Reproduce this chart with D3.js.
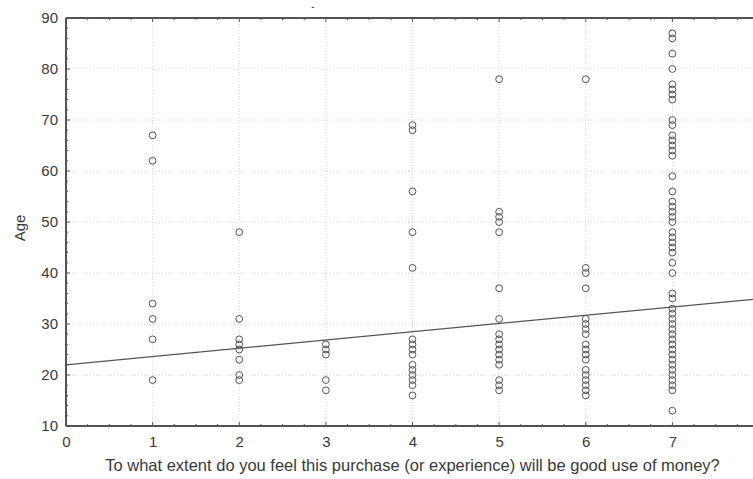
<!DOCTYPE html>
<html>
<head>
<meta charset="utf-8">
<script src="https://cdn.jsdelivr.net/npm/d3@7"></script>
<style>
  body { margin: 0; background: #fff; }
  svg { display: block; font-family: "Liberation Sans", Arial, sans-serif; }
</style>
</head>
<body>
<svg id="chart"></svg>
<script>
// Ages, one list per answer on the 1-7 scale
const ageAt1 = [67, 62, 34, 31, 27, 19];
const ageAt2 = [48, 31, 27, 26, 25, 23, 20, 19];
const ageAt3 = [26, 25, 24, 19, 17];
const ageAt4 = [69, 68, 56, 48, 41, 27, 26, 25, 24, 22, 21, 20, 19, 18, 16];
const ageAt5 = [78, 52, 51, 50, 48, 37, 31, 28, 27, 26, 25, 24, 23, 22, 19, 18, 17];
const ageAt6 = [78, 41, 40, 37, 31, 30, 29, 28, 26, 25, 24, 23, 21, 20, 19, 18, 17, 16];
const ageAt7 = [87, 86, 83, 80, 77, 76, 75, 74, 70, 69, 67, 66, 65, 64, 63, 59, 56,
  54, 53, 52, 51, 50, 48, 47, 46, 45, 44, 42, 40, 36, 35,
  33, 32, 31, 30, 29, 28, 27, 26, 25, 24, 23, 22, 21, 20, 19, 18, 17, 13];

const columns = [ageAt1, ageAt2, ageAt3, ageAt4, ageAt5, ageAt6, ageAt7];

// Linear fit shown on the chart
const fitIntercept = 22.0;
const fitSlope = 1.62;

const xTicks = [0, 1, 2, 3, 4, 5, 6, 7];
const yTicks = [10, 20, 30, 40, 50, 60, 70, 80, 90];
const xLabel = "To what extent do you feel this purchase (or experience) will be good use of money?";
const yLabel = "Age";

const width = 753;
const height = 479;
const margin = { top: 18, left: 66 };
const innerW = 693;
const innerH = 408;

const points = [];
columns.forEach((ages, i) => ages.forEach((a) => points.push({ x: i + 1, y: a })));

const svg = d3.select("#chart").attr("width", width).attr("height", height);

const x = d3.scaleLinear().domain([0, 8]).range([0, innerW]);
const y = d3.scaleLinear().domain([10, 90]).range([innerH, 0]);

const g = svg.append("g").attr("transform", `translate(${margin.left},${margin.top})`);

// dotted grid
g.append("g")
  .selectAll("line")
  .data(xTicks.slice(1))
  .join("line")
  .attr("x1", (d) => x(d)).attr("x2", (d) => x(d))
  .attr("y1", 0).attr("y2", innerH)
  .attr("stroke", "#d4d4d4")
  .attr("stroke-dasharray", "1,2");

g.append("g")
  .selectAll("line")
  .data(yTicks.slice(1, -1))
  .join("line")
  .attr("x1", 0).attr("x2", innerW)
  .attr("y1", (d) => y(d)).attr("y2", (d) => y(d))
  .attr("stroke", "#d4d4d4")
  .attr("stroke-dasharray", "1,2");

const axisColor = "#555";
const textColor = "#3a3a3a";

// minor ticks (inward) on all visible sides
const xMinor = d3.range(0, 8.01, 0.25);
const yMinor = d3.range(10, 90.01, 2);

const minor = g.append("g").attr("stroke", axisColor).attr("stroke-width", 1);
xMinor.forEach((d) => {
  const len = Number.isInteger(d) ? 4 : 2;
  minor.append("line").attr("x1", x(d)).attr("x2", x(d)).attr("y1", innerH).attr("y2", innerH - len);
  minor.append("line").attr("x1", x(d)).attr("x2", x(d)).attr("y1", 0).attr("y2", len);
});
yMinor.forEach((d) => {
  const len = d % 10 === 0 ? 4 : 2;
  minor.append("line").attr("x1", 0).attr("x2", len).attr("y1", y(d)).attr("y2", y(d));
});

// axes with labels
const xAxis = g.append("g")
  .attr("transform", `translate(0,${innerH})`)
  .call(d3.axisBottom(x).tickValues(xTicks).tickSize(0).tickPadding(10));
const yAxis = g.append("g")
  .call(d3.axisLeft(y).tickValues(yTicks).tickSize(0).tickPadding(8));

[xAxis, yAxis].forEach((ax) => {
  ax.select(".domain").remove();
  ax.selectAll("text")
    .attr("font-size", 15)
    .attr("font-family", "Liberation Sans, Arial, sans-serif")
    .attr("fill", textColor);
});

// frame
g.append("line").attr("x1", 0).attr("x2", innerW).attr("y1", innerH).attr("y2", innerH)
  .attr("stroke", axisColor).attr("stroke-width", 2);
g.append("line").attr("x1", 0).attr("x2", innerW).attr("y1", 0).attr("y2", 0)
  .attr("stroke", axisColor).attr("stroke-width", 2);
g.append("line").attr("x1", 0).attr("x2", 0).attr("y1", 0).attr("y2", innerH)
  .attr("stroke", axisColor).attr("stroke-width", 2);

// fit line
g.append("line")
  .attr("x1", x(0)).attr("y1", y(fitIntercept))
  .attr("x2", x(8)).attr("y2", y(fitIntercept + fitSlope * 8))
  .attr("stroke", "#555").attr("stroke-width", 1.2);

// points
g.append("g")
  .selectAll("circle")
  .data(points)
  .join("circle")
  .attr("cx", (d) => x(d.x))
  .attr("cy", (d) => y(d.y))
  .attr("r", 3.4)
  .attr("fill", "none")
  .attr("stroke", "#555")
  .attr("stroke-width", 1);

// labels
svg.append("text")
  .attr("x", margin.left + innerW / 2)
  .attr("y", 471)
  .attr("text-anchor", "middle")
  .attr("font-size", 16.5)
  .attr("fill", textColor)
  .text(xLabel);

svg.append("text")
  .attr("transform", `translate(25,${margin.top + innerH / 2 + 6}) rotate(-90)`)
  .attr("text-anchor", "middle")
  .attr("font-size", 15)
  .attr("fill", textColor)
  .text(yLabel);

// the small title mark above the plot
svg.append("text")
  .attr("x", 313)
  .attr("y", 10)
  .attr("text-anchor", "middle")
  .attr("font-size", 10)
  .attr("fill", textColor)
  .text("-");
</script>
</body>
</html>
